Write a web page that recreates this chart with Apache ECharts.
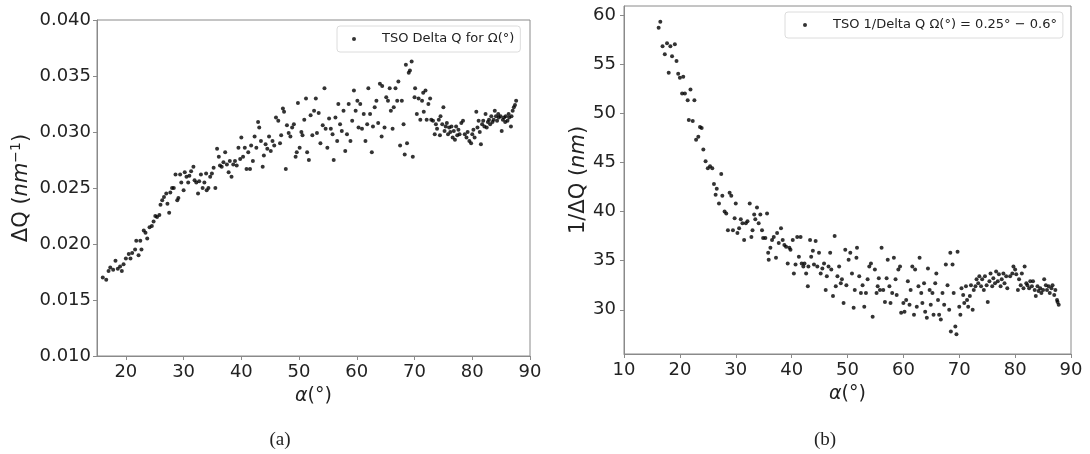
<!DOCTYPE html>
<html>
<head>
<meta charset="utf-8">
<script src="https://cdn.jsdelivr.net/npm/echarts@6/dist/echarts.min.js"></script>
<style>html,body{margin:0;padding:0;background:#fff}#c{width:1090px;height:454px}</style>
</head>
<body>
<div id="c"></div>
<script>
// Panel (a): alpha (deg) and Delta Q (nm^-1)
const alphaA = [16.0,16.6,17.0,17.3,17.8,18.2,18.6,19.0,19.3,19.6,20.0,20.5,20.8,21.1,21.6,21.8,22.2,22.5,22.7,23.1,23.4,23.7,24.1,24.5,24.8,25.1,25.4,25.8,26.0,26.3,26.6,27.0,27.2,27.5,27.7,28.0,28.3,28.6,28.9,29.1,29.4,29.6,30.0,30.2,30.5,30.8,31.0,31.3,31.7,31.9,32.2,32.5,32.7,33.0,33.3,33.6,33.9,34.0,34.3,34.6,34.9,35.2,35.5,35.8,36.1,36.3,36.6,36.9,37.2,37.5,37.8,38.0,38.3,38.6,38.9,39.2,39.5,39.8,40.0,40.3,40.6,40.9,41.2,41.5,41.7,42.0,42.3,42.6,42.9,43.1,43.4,43.7,43.9,44.2,44.5,44.8,45.1,45.4,45.7,46.0,46.4,46.7,46.9,47.2,47.4,47.7,47.9,48.2,48.5,48.8,49.1,49.4,49.6,49.8,50.1,50.4,50.6,50.9,51.2,51.4,51.7,52.0,52.3,52.6,52.9,53.1,53.4,53.7,54.1,54.4,54.6,54.9,55.2,55.5,55.8,56.0,56.3,56.6,56.8,57.1,57.4,57.7,58.0,58.3,58.6,58.9,59.2,59.5,59.8,60.1,60.3,60.6,60.9,61.2,61.5,61.8,62.0,62.3,62.6,62.8,63.1,63.4,63.7,64.0,64.3,64.4,64.8,65.1,65.4,65.7,65.9,66.2,66.4,66.7,67.0,67.2,67.5,67.8,68.1,68.3,68.5,68.7,69.0,69.2,69.5,69.7,70.0,70.1,70.4,70.7,71.0,71.3,71.5,71.6,71.9,72.1,72.4,72.7,72.9,73.2,73.5,73.7,73.9,74.2,74.4,74.5,74.8,75.0,75.2,75.4,75.6,75.8,76.0,76.2,76.4,76.6,76.8,77.0,77.2,77.4,77.6,77.8,78.1,78.4,78.7,79.0,79.2,79.5,79.8,80.0,80.2,80.4,80.7,80.9,81.1,81.3,81.5,81.7,81.9,82.1,82.3,82.5,82.7,82.9,83.1,83.3,83.5,83.7,83.9,84.1,84.3,84.5,84.6,84.9,85.1,85.3,85.5,85.7,85.8,86.1,86.3,86.4,86.7,86.8,87.0,87.2,87.4,87.6];
const deltaQ = [0.0170,0.0168,0.0176,0.0179,0.0177,0.0185,0.0178,0.0180,0.0176,0.0182,0.0187,0.0191,0.0187,0.0192,0.0195,0.0203,0.0190,0.0203,0.0195,0.0212,0.0210,0.0205,0.0215,0.0216,0.0220,0.0225,0.0224,0.0226,0.0235,0.0239,0.0242,0.0245,0.0236,0.0228,0.0246,0.0250,0.0250,0.0262,0.0239,0.0241,0.0262,0.0255,0.0248,0.0264,0.0260,0.0255,0.0261,0.0265,0.0269,0.0257,0.0255,0.0245,0.0256,0.0262,0.0250,0.0255,0.0263,0.0248,0.0250,0.0260,0.0263,0.0268,0.0250,0.0285,0.0278,0.0270,0.0269,0.0273,0.0282,0.0271,0.0264,0.0274,0.0260,0.0271,0.0274,0.0270,0.0286,0.0276,0.0295,0.0278,0.0286,0.0267,0.0282,0.0267,0.0288,0.0274,0.0296,0.0286,0.0309,0.0304,0.0292,0.0269,0.0279,0.0289,0.0285,0.0296,0.0283,0.0292,0.0288,0.0313,0.0310,0.0290,0.0297,0.0321,0.0318,0.0267,0.0306,0.0299,0.0296,0.0304,0.0307,0.0278,0.0282,0.0326,0.0286,0.0300,0.0297,0.0311,0.0330,0.0282,0.0275,0.0315,0.0297,0.0319,0.0330,0.0299,0.0317,0.0290,0.0306,0.0339,0.0303,0.0286,0.0312,0.0303,0.0298,0.0275,0.0313,0.0292,0.0325,0.0307,0.0301,0.0319,0.0283,0.0298,0.0325,0.0292,0.0310,0.0337,0.0319,0.0328,0.0304,0.0325,0.0303,0.0316,0.0292,0.0307,0.0339,0.0316,0.0282,0.0305,0.0322,0.0328,0.0308,0.0343,0.0296,0.0341,0.0304,0.0331,0.0328,0.0339,0.0319,0.0303,0.0322,0.0339,0.0328,0.0345,0.0288,0.0328,0.0307,0.0280,0.0360,0.0290,0.0353,0.0355,0.0363,0.0278,0.0331,0.0339,0.0316,0.0330,0.0311,0.0328,0.0335,0.0318,0.0337,0.0311,0.0325,0.0330,0.0311,0.0310,0.0298,0.0307,0.0303,0.0311,0.0297,0.0314,0.0307,0.0322,0.0301,0.0305,0.0308,0.0298,0.0304,0.0300,0.0305,0.0295,0.0301,0.0293,0.0305,0.0297,0.0302,0.0298,0.0308,0.0310,0.0298,0.0295,0.0300,0.0292,0.0290,0.0298,0.0302,0.0295,0.0318,0.0304,0.0310,0.0300,0.0289,0.0307,0.0310,0.0305,0.0316,0.0304,0.0309,0.0311,0.0307,0.0314,0.0309,0.0311,0.0319,0.0314,0.0310,0.0316,0.0313,0.0314,0.0301,0.0311,0.0313,0.0309,0.0314,0.0310,0.0316,0.0313,0.0305,0.0314,0.0319,0.0322,0.0324,0.0328];

// Panel (b): alpha (deg) and 1/Delta Q (nm)
const alphaB = [16.2,16.5,16.9,17.3,17.7,18.0,18.3,18.6,19.1,19.4,19.7,20.0,20.4,20.6,20.9,21.4,21.6,21.9,22.3,22.6,22.9,23.3,23.6,23.9,24.2,24.6,25.0,25.4,25.8,26.1,26.4,26.6,27.0,27.4,27.6,28.0,28.3,28.6,28.9,29.2,29.5,29.8,30.0,30.3,30.6,30.9,31.2,31.5,31.8,32.1,32.5,32.8,33.0,33.3,33.5,33.8,34.1,34.4,34.7,34.9,35.3,35.6,35.8,35.9,36.2,36.5,36.8,37.2,37.4,37.7,38.1,38.4,38.7,39.0,39.3,39.6,39.8,40.2,40.4,40.7,41.0,41.3,41.6,41.8,42.1,42.3,42.6,42.9,43.0,43.3,43.5,43.8,44.0,44.3,44.6,44.9,45.2,45.5,45.8,46.1,46.3,46.6,46.9,47.1,47.4,47.7,47.9,48.2,48.5,48.8,49.0,49.3,49.6,49.8,50.2,50.5,50.8,51.1,51.3,51.6,51.7,52.1,52.4,52.7,53.0,53.3,53.6,53.9,54.2,54.5,54.9,55.2,55.4,55.6,55.8,56.1,56.4,56.7,57.0,57.2,57.5,57.7,58.0,58.3,58.6,58.8,59.1,59.4,59.6,60.0,60.2,60.5,60.8,61.1,61.3,61.6,61.9,62.1,62.4,62.7,62.9,63.2,63.4,63.7,63.9,64.2,64.4,64.7,64.9,65.2,65.4,65.7,65.9,66.2,66.4,66.7,67.0,67.3,67.6,67.9,68.2,68.4,68.5,68.8,69.0,69.3,69.5,69.7,70.0,70.2,70.4,70.7,70.9,71.2,71.4,71.6,71.9,72.1,72.4,72.6,72.9,73.1,73.4,73.6,73.9,74.1,74.4,74.6,74.9,75.1,75.4,75.6,75.9,76.1,76.4,76.6,76.9,77.1,77.4,77.6,77.9,78.1,78.4,78.6,79.1,79.5,79.7,80.0,80.2,80.5,80.7,81.0,81.2,81.5,81.7,82.0,82.2,82.5,82.7,83.0,83.2,83.5,83.7,84.0,84.2,84.5,84.7,85.0,85.2,85.5,85.7,86.0,86.2,86.5,86.7,87.0,87.2,87.5,87.6,87.8];
const invDeltaQ = [58.7,59.3,56.8,56.0,57.1,54.1,56.8,55.8,57.0,55.3,54.0,53.6,52.0,53.7,52.0,51.3,49.3,52.4,49.2,51.3,47.3,47.6,48.6,48.5,46.3,45.1,44.4,44.6,44.4,42.8,41.7,42.3,40.8,43.8,41.6,40.0,39.8,38.1,41.9,41.6,38.1,39.3,40.8,37.8,38.3,39.2,38.8,37.1,38.8,39.0,40.8,37.4,38.1,39.7,39.2,40.4,38.8,39.7,38.1,37.3,37.3,39.8,35.8,35.1,36.3,37.1,37.4,35.3,37.8,36.8,38.3,37.1,36.6,36.4,34.7,36.3,36.1,37.1,33.7,34.6,37.4,35.4,37.4,34.7,34.4,34.7,33.7,32.4,34.4,37.1,35.4,36.0,34.6,37.0,34.4,35.8,33.7,34.2,34.7,32.0,33.4,34.4,35.8,34.1,31.4,37.5,32.4,33.4,34.4,32.7,33.1,30.7,36.1,32.5,35.1,35.8,33.7,30.2,32.0,35.3,36.3,33.4,31.7,32.5,30.3,31.7,33.1,34.4,34.7,29.3,34.1,31.7,32.4,33.2,32.0,36.3,32.0,30.8,33.2,35.1,32.4,30.7,31.7,35.3,33.1,31.5,34.1,34.4,29.7,30.7,29.8,31.0,32.9,30.5,32.0,34.4,29.5,34.1,30.3,32.4,35.3,31.7,30.7,32.7,29.8,29.2,34.2,32.0,30.5,31.7,29.5,32.7,33.7,31.0,29.5,29.0,31.7,30.5,34.6,32.5,30.0,35.8,27.8,34.6,31.7,28.3,27.5,35.9,30.3,29.5,32.2,31.5,30.7,32.4,31.0,30.3,31.4,32.5,30.0,32.0,32.4,33.1,32.7,33.4,32.4,33.1,32.0,33.4,32.5,30.8,32.9,33.7,32.4,33.2,32.7,33.9,32.9,33.6,32.4,33.1,33.7,32.7,33.4,32.2,33.4,33.7,34.4,34.1,33.6,32.0,33.1,32.5,33.7,32.2,34.4,32.7,32.5,32.2,32.9,32.4,32.9,32.0,31.4,32.4,31.9,32.2,31.7,32.0,33.1,32.5,32.0,32.4,31.7,32.2,32.5,31.5,32.0,31.0,30.8,30.5];

const xTicksA = [20,30,40,50,60,70,80,90];
const yTicksA = [0.010,0.015,0.020,0.025,0.030,0.035,0.040];
const xTicksB = [10,20,30,40,50,60,70,80,90];
const yTicksB = [30,35,40,45,50,55,60];

const nameA = 'TSO Delta Q for Ω(°)';
const nameB = 'TSO 1/Delta Q Ω(°) = 0.25° − 0.6°';

const FONT = 'DejaVu Sans';
const AX = '#8a8a8a';
const TXT = '#222';

function pairs(xs, ys){ return xs.map((x,i)=>[x, ys[i]]); }

function mkX(grid, min, max, ticks){
  return {
    type:'value', gridIndex:grid, min:min, max:max,
    axisLine:{show:true, onZero:false, lineStyle:{color:AX, width:1}},
    axisTick:{show:true, length:4, lineStyle:{color:AX}, customValues:ticks},
    axisLabel:{customValues:ticks, fontSize:18, color:TXT, fontFamily:FONT, margin:7},
    splitLine:{show:false},
    name:'{i|α}{n|(°)}', nameLocation:'middle', nameGap:31,
    nameTextStyle:{fontFamily:FONT, color:TXT, rich:{i:{fontSize:19, fontStyle:'italic', fontFamily:FONT, color:TXT}, n:{fontSize:19, fontFamily:FONT, color:TXT}}}
  };
}

const chart = echarts.init(document.getElementById('c'), null, {renderer:'canvas'});
chart.setOption({
  animation:false,
  backgroundColor:'#fff',
  grid:[
    {left:97, top:20, width:433, height:336, show:true, borderColor:AX, borderWidth:1, backgroundColor:'transparent'},
    {left:624, top:6, width:447, height:348, show:true, borderColor:AX, borderWidth:1, backgroundColor:'transparent'}
  ],
  xAxis:[ mkX(0, 15, 90, xTicksA), mkX(1, 10, 90, xTicksB) ],
  yAxis:[
    {
      type:'value', gridIndex:0, min:0.010, max:0.040,
      axisLine:{show:true, onZero:false, lineStyle:{color:AX}},
      axisTick:{show:true, length:4, lineStyle:{color:AX}, customValues:yTicksA},
      axisLabel:{customValues:yTicksA, fontSize:18, color:TXT, fontFamily:FONT, margin:6, formatter:v=>v.toFixed(3)},
      splitLine:{show:false},
      name:'{n|ΔQ (}{i|nm}{s|−1}{n|)}', nameLocation:'middle', nameGap:62, nameRotate:90,
      nameTextStyle:{rich:{
        n:{fontSize:21, fontFamily:FONT, color:TXT, lineHeight:26},
        i:{fontSize:21, fontFamily:FONT, fontStyle:'italic', color:TXT, lineHeight:26},
        s:{fontSize:14, fontFamily:FONT, color:TXT, lineHeight:26, verticalAlign:'top', padding:[0,0,10,0]}
      }}
    },
    {
      type:'value', gridIndex:1, min:25.5, max:60.9,
      axisLine:{show:true, onZero:false, lineStyle:{color:AX}},
      axisTick:{show:true, length:4, lineStyle:{color:AX}, customValues:yTicksB},
      axisLabel:{customValues:yTicksB, fontSize:18, color:TXT, fontFamily:FONT, margin:8},
      splitLine:{show:false},
      name:'{n|1/ΔQ (}{i|nm}{n|)}', nameLocation:'middle', nameGap:35, nameRotate:90,
      nameTextStyle:{rich:{
        n:{fontSize:21, fontFamily:FONT, color:TXT},
        i:{fontSize:21, fontFamily:FONT, fontStyle:'italic', color:TXT}
      }}
    }
  ],
  legend:[
    {
      data:[nameA], left:337, top:26, orient:'horizontal',
      icon:'circle', itemWidth:4, itemHeight:4,
      padding:[5,6,5,15], borderColor:'#dcdcdc', borderWidth:1, borderRadius:3, backgroundColor:'#fff',
      textStyle:{fontSize:13, color:TXT, fontFamily:FONT, padding:[0,0,0,21], lineHeight:16}
    },
    {
      data:[nameB], left:785, top:12, orient:'horizontal',
      icon:'circle', itemWidth:4, itemHeight:4,
      padding:[5,6,5,18], borderColor:'#dcdcdc', borderWidth:1, borderRadius:3, backgroundColor:'#fff',
      textStyle:{fontSize:13, color:TXT, fontFamily:FONT, padding:[0,0,0,21], lineHeight:16}
    }
  ],
  series:[
    {type:'scatter', name:nameA, xAxisIndex:0, yAxisIndex:0, symbol:'circle', symbolSize:4, itemStyle:{color:'#000'}, data:pairs(alphaA, deltaQ)},
    {type:'scatter', name:nameB, xAxisIndex:1, yAxisIndex:1, symbol:'circle', symbolSize:4, itemStyle:{color:'#000'}, data:pairs(alphaB, invDeltaQ)}
  ],
  graphic:[
    {type:'text', x:280, y:440, style:{text:'(a)', font:'19px "Liberation Serif"', fill:TXT, textAlign:'center', textVerticalAlign:'middle'}},
    {type:'text', x:825, y:440, style:{text:'(b)', font:'19px "Liberation Serif"', fill:TXT, textAlign:'center', textVerticalAlign:'middle'}}
  ]
});
</script>
</body>
</html>
